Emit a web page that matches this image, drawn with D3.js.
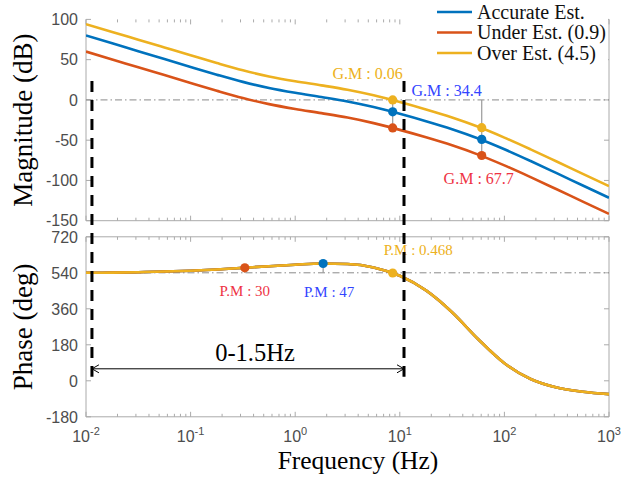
<!DOCTYPE html>
<html>
<head>
<meta charset="utf-8">
<script src="https://cdn.jsdelivr.net/npm/d3@7"></script>
<style>
  body { margin: 0; background: #fff; }
  svg { display: block; }
</style>
</head>
<body>
<div id="chart"></div>
<script>
// ---- data ----
const seriesNames = ["Accurate Est.", "Under Est. (0.9)", "Over Est. (4.5)"];

// frequency samples (Hz), a quarter decade apart
const freqs = [0.01, 0.0178, 0.0316, 0.0562, 0.1, 0.178, 0.316, 0.562, 1, 1.78, 3.16, 5.62, 10, 17.8, 31.6, 56.2, 100, 178, 316, 562, 1000];
const magAccurate = [80, 70.3, 60.5, 50.8, 41, 31.4, 22.4, 14.8, 8.8, 3.6, -1.9, -8.8, -17.2, -26.4, -36.4, -47.9, -61.3, -75.9, -91, -106.3, -121.5];
const magUnder = [60, 50.3, 40.5, 30.8, 21, 11.4, 2.4, -5.2, -11.2, -16.4, -21.9, -28.8, -37.2, -46.4, -56.4, -67.9, -81.3, -95.9, -111, -126.3, -141.5];
const magOver = [94, 84.5, 74.8, 65.1, 55.4, 45.8, 36.8, 29.2, 23.2, 18.1, 12.6, 5.7, -2.7, -11.9, -21.9, -33.4, -46.8, -61.4, -76.5, -91.8, -107];
const phaseAll = [540, 541.1, 543.1, 546.2, 550.6, 556.5, 564.5, 573, 580.5, 586.5, 584, 567, 525, 452, 343, 208, 88, 9, -33.5, -54.8, -66.7];

// gain margin markers (one row per series, at 8.55 Hz and 60.7 Hz)
const gmFreq = [8.55, 60.7];
const gmAccurate = [-14.8, -49];
const gmUnder = [-34.8, -69];
const gmOver = [0, -34.5];

// phase margin markers: [accurate, under, over]
const pmFreq = [1.85, 0.33, 8.55];
const pmPhase = [586.5, 565, 539];

const gmLabels = ["G.M : 34.4", "G.M : 67.7", "G.M : 0.06"];
const pmLabels = ["P.M : 47", "P.M : 30", "P.M : 0.468"];

const magTicks = [100, 50, 0, -50, -100, -150];
const phaseTicks = [720, 540, 360, 180, 0, -180];
const freqTicks = [1e-2, 1e-1, 1e0, 1e1, 1e2, 1e3];
const freqExp = ["-2", "-1", "0", "1", "2", "3"];

const bandLabel = "0-1.5Hz";
const bandFreq = [0.0114, 10.97];

// ---- styling ----
const colors = ["#0072BD", "#D95319", "#EDB120"];
const textColors = ["#3344ff", "#ee3344", "#EDB120"];
const axisColor = "#aaaaaa";
const tickColor = "#4d4d4d";
const serif = "'Liberation Serif', 'Times New Roman', serif";
const sans = "'Liberation Sans', Arial, sans-serif";

const W = 621, H = 479;
const left = 86, right = 609;

const svg = d3.select("#chart").append("svg")
    .attr("width", W)
    .attr("height", H);

const x = d3.scaleLog().domain([1e-2, 1e3]).range([left, right]);
const yMag = d3.scaleLinear().domain([-150, 100]).range([220.7, 19.4]);
const yPh = d3.scaleLinear().domain([-180, 720]).range([416.8, 236.8]);

// minor ticks for log axis
let minor = [];
for (let e = -2; e < 3; e++) {
    for (let k = 2; k <= 9; k++) minor.push(k * Math.pow(10, e));
}

function panel(y, yticks, drawTop, xlabels, id) {
    let g = svg.append("g");
    let top = y.range()[1], bot = y.range()[0];

    g.append("clipPath").attr("id", id)
        .append("rect")
        .attr("x", left).attr("y", top - 2)
        .attr("width", right - left).attr("height", bot - top + 4);

    // box
    g.append("line").attr("x1", left).attr("x2", left).attr("y1", top).attr("y2", bot);
    g.append("line").attr("x1", right).attr("x2", right).attr("y1", top).attr("y2", bot);
    g.append("line").attr("x1", left).attr("x2", right).attr("y1", bot).attr("y2", bot);
    if (drawTop) g.append("line").attr("x1", left).attr("x2", right).attr("y1", top).attr("y2", top);
    g.selectAll("line").attr("stroke", axisColor).attr("stroke-width", 1);

    // x ticks (inward, bottom and top)
    let tg = g.append("g").attr("stroke", axisColor).attr("stroke-width", 1);
    freqTicks.forEach(f => {
        tg.append("line").attr("x1", x(f)).attr("x2", x(f)).attr("y1", bot).attr("y2", bot - 5);
        tg.append("line").attr("x1", x(f)).attr("x2", x(f)).attr("y1", top).attr("y2", top + 5);
    });
    minor.forEach(f => {
        tg.append("line").attr("x1", x(f)).attr("x2", x(f)).attr("y1", bot).attr("y2", bot - 3);
        tg.append("line").attr("x1", x(f)).attr("x2", x(f)).attr("y1", top).attr("y2", top + 3);
    });
    yticks.forEach(v => {
        tg.append("line").attr("x1", left).attr("x2", left + 5).attr("y1", y(v)).attr("y2", y(v));
        tg.append("line").attr("x1", right).attr("x2", right - 5).attr("y1", y(v)).attr("y2", y(v));
    });

    g.selectAll(".ylab")
        .data(yticks)
        .enter()
        .append("text")
        .attr("x", left - 8)
        .attr("y", d => y(d))
        .attr("dy", "0.36em")
        .attr("text-anchor", "end")
        .style("font-family", sans)
        .style("font-size", "16px")
        .style("fill", tickColor)
        .text(d => d);

    if (xlabels) {
        freqTicks.forEach((f, i) => {
            let t = g.append("text")
                .attr("x", x(f))
                .attr("y", bot + 25.5)
                .attr("text-anchor", "middle")
                .style("font-family", sans)
                .style("font-size", "16px")
                .style("fill", tickColor);
            t.append("tspan").text("10");
            t.append("tspan").attr("dy", -7).style("font-size", "11px").text(freqExp[i]);
        });
    }
    return g;
}

const gMag = panel(yMag, magTicks, false, false, "clipMag");
const gPh = panel(yPh, phaseTicks, true, true, "clipPh");

// reference lines (0 dB and 540 deg)
function refLine(g, y, v) {
    g.append("line")
        .attr("x1", left).attr("x2", right)
        .attr("y1", y(v)).attr("y2", y(v))
        .attr("stroke", "#8a8a8a")
        .attr("stroke-width", 1)
        .attr("stroke-dasharray", "7,3,1.5,3");
}
refLine(gMag, yMag, 0);
refLine(gPh, yPh, 540);

// margin drop lines
gmFreq.forEach((f, i) => {
    let lo = Math.min(gmAccurate[i], gmUnder[i], gmOver[i]);
    gMag.append("line")
        .attr("x1", x(f)).attr("x2", x(f))
        .attr("y1", yMag(0)).attr("y2", yMag(lo))
        .attr("stroke", "#9a9a9a").attr("stroke-width", 1.2);
});
pmFreq.forEach((f, i) => {
    gPh.append("line")
        .attr("x1", x(f)).attr("x2", x(f))
        .attr("y1", yPh(540)).attr("y2", yPh(pmPhase[i]))
        .attr("stroke", "#9a9a9a").attr("stroke-width", 1.2);
});

// curves
const magSeries = [magAccurate, magUnder, magOver];
magSeries.forEach((vals, i) => {
    let line = d3.line()
        .x((d, j) => x(freqs[j]))
        .y(d => yMag(d))
        .curve(d3.curveMonotoneX);
    gMag.append("path")
        .datum(vals)
        .attr("clip-path", "url(#clipMag)")
        .attr("d", line)
        .attr("fill", "none")
        .attr("stroke", colors[i])
        .attr("stroke-width", 2.6);
});

colors.forEach(c => {
    let line = d3.line()
        .x((d, j) => x(freqs[j]))
        .y(d => yPh(d))
        .curve(d3.curveMonotoneX);
    gPh.append("path")
        .datum(phaseAll)
        .attr("clip-path", "url(#clipPh)")
        .attr("d", line)
        .attr("fill", "none")
        .attr("stroke", c)
        .attr("stroke-width", 2.6);
});

// markers
const gmSeries = [gmAccurate, gmUnder, gmOver];
gmSeries.forEach((vals, i) => {
    gMag.selectAll(".gm" + i)
        .data(vals)
        .enter()
        .append("circle")
        .attr("cx", (d, j) => x(gmFreq[j]))
        .attr("cy", d => yMag(d))
        .attr("r", 4.6)
        .style("fill", colors[i]);
});
gPh.selectAll(".pm")
    .data(pmPhase)
    .enter()
    .append("circle")
    .attr("cx", (d, i) => x(pmFreq[i]))
    .attr("cy", d => yPh(d))
    .attr("r", 4.6)
    .style("fill", (d, i) => colors[i]);

// margin labels
function label(g, px, py, txt, col, anchor, size) {
    g.append("text")
        .attr("x", px).attr("y", py)
        .attr("text-anchor", anchor)
        .style("font-family", serif)
        .style("font-size", size + "px")
        .style("fill", col)
        .text(txt);
}
label(gMag, x(gmFreq[1]), yMag(-48) - 43, gmLabels[0], textColors[0], "end", 16);
label(gMag, x(gmFreq[1]) - 3, yMag(-68) + 29, gmLabels[1], textColors[1], "middle", 16);
label(gMag, x(gmFreq[0]) + 10, yMag(0) - 21, gmLabels[2], textColors[2], "end", 16);
label(gPh, x(pmFreq[0]) + 6, yPh(588) + 34, pmLabels[0], textColors[0], "middle", 15);
label(gPh, x(pmFreq[1]), yPh(568) + 29, pmLabels[1], textColors[1], "middle", 15);
label(gPh, x(pmFreq[2]) - 9, yPh(540) - 18, pmLabels[2], textColors[2], "start", 15);

// band annotation: dashed verticals and double arrow
const ann = svg.append("g");
bandFreq.forEach(f => {
    ann.append("line")
        .attr("x1", x(f)).attr("x2", x(f))
        .attr("y1", yMag(23.5)).attr("y2", yPh(20))
        .attr("stroke", "#000")
        .attr("stroke-width", 3)
        .attr("stroke-dasharray", "11,8");
});
const ay = yPh(60);
const ax0 = x(bandFreq[0]), ax1 = x(bandFreq[1]);
ann.append("line")
    .attr("x1", ax0).attr("x2", ax1).attr("y1", ay).attr("y2", ay)
    .attr("stroke", "#000").attr("stroke-width", 1);
ann.append("path")
    .attr("d", `M${ax0 + 7},${ay - 4}L${ax0},${ay}L${ax0 + 7},${ay + 4}M${ax1 - 7},${ay - 4}L${ax1},${ay}L${ax1 - 7},${ay + 4}`)
    .attr("fill", "none").attr("stroke", "#000").attr("stroke-width", 1);
ann.append("text")
    .attr("x", (ax0 + ax1) / 2 + 7)
    .attr("y", ay - 8)
    .attr("text-anchor", "middle")
    .style("font-family", serif)
    .style("font-size", "24.5px")
    .style("fill", "#000")
    .text(bandLabel);

// axis titles
svg.append("text")
    .attr("transform", "translate(32," + ((yMag.range()[0] + yMag.range()[1]) / 2) + ") rotate(-90)")
    .attr("text-anchor", "middle")
    .style("font-family", serif).style("font-size", "27px").style("fill", "#000")
    .text("Magnitude (dB)");
svg.append("text")
    .attr("transform", "translate(32," + ((yPh.range()[0] + yPh.range()[1]) / 2) + ") rotate(-90)")
    .attr("text-anchor", "middle")
    .style("font-family", serif).style("font-size", "27px").style("fill", "#000")
    .text("Phase (deg)");
svg.append("text")
    .attr("x", 358)
    .attr("y", 469)
    .attr("text-anchor", "middle")
    .style("font-family", serif).style("font-size", "25.5px").style("fill", "#000")
    .text("Frequency (Hz)");

// legend
const leg = svg.append("g");
leg.append("rect")
    .attr("x", 428).attr("y", 0).attr("width", 180).attr("height", 64)
    .attr("fill", "#fff");
seriesNames.forEach((n, i) => {
    let ly = 12 + i * 20.5;
    leg.append("line")
        .attr("x1", 437).attr("x2", 472).attr("y1", ly).attr("y2", ly)
        .attr("stroke", colors[i]).attr("stroke-width", 2.6);
    leg.append("text")
        .attr("x", 477).attr("y", ly + 6.5)
        .style("font-family", serif).style("font-size", "20px").style("fill", "#111")
        .text(n);
});
</script>
</body>
</html>
